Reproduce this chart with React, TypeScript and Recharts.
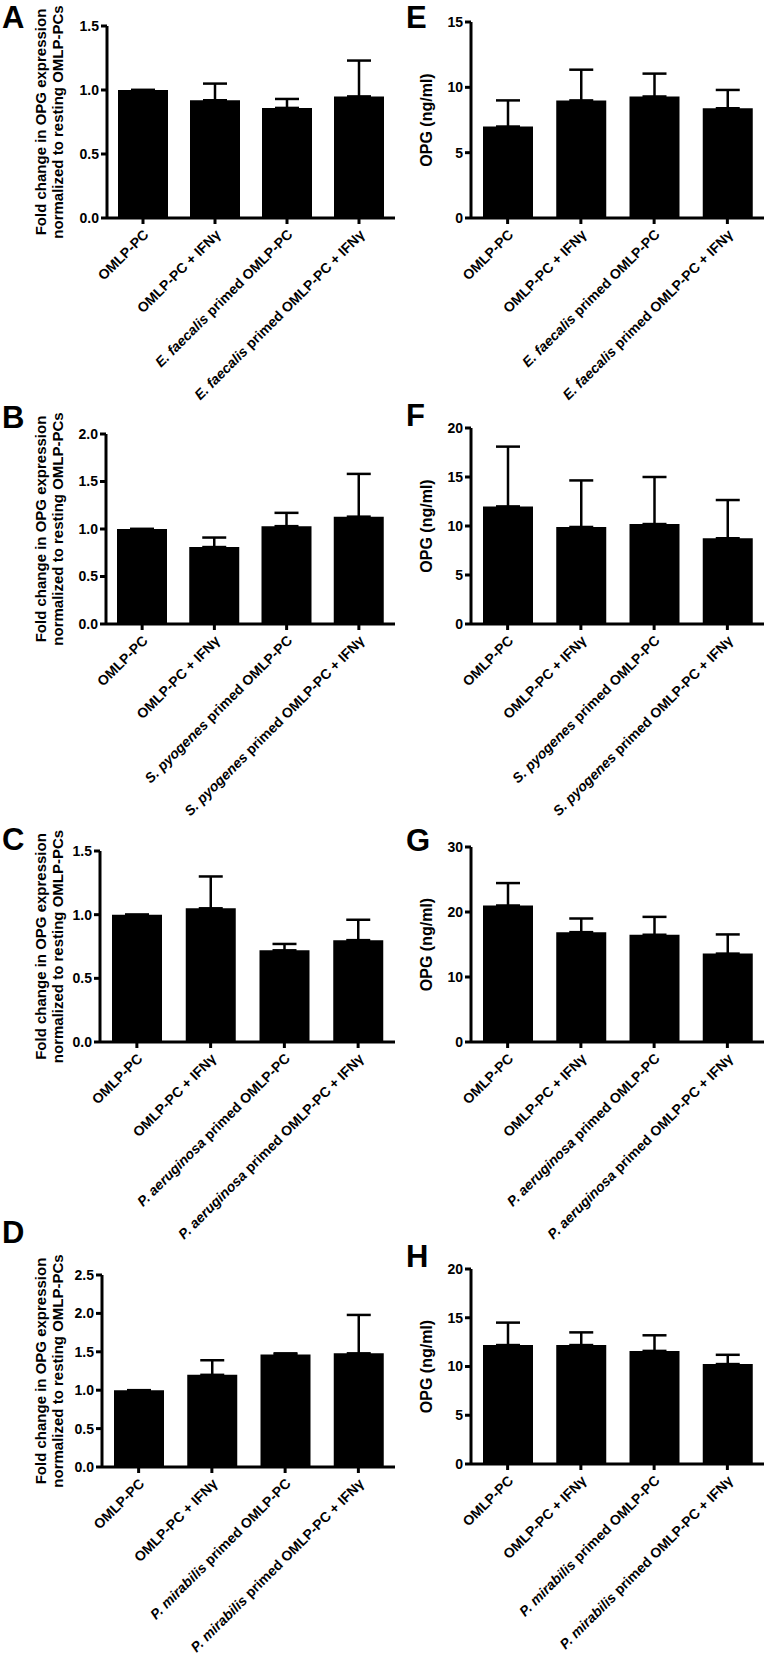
import React from "react";
import { BarChart, Bar, XAxis, YAxis, ErrorBar } from "recharts";

const FONT = "'Liberation Sans', Arial, Helvetica, sans-serif";

const species = ["E. faecalis", "S. pyogenes", "P. aeruginosa", "P. mirabilis"];

// fold change in OPG expression (A-D), mean and upper error
const foldA = [1.0, 0.92, 0.86, 0.95];
const foldAErr = [0, 0.13, 0.07, 0.28];
const foldB = [1.0, 0.81, 1.03, 1.13];
const foldBErr = [0, 0.1, 0.14, 0.45];
const foldC = [1.0, 1.05, 0.72, 0.8];
const foldCErr = [0, 0.25, 0.05, 0.16];
const foldD = [1.0, 1.2, 1.465, 1.48];
const foldDErr = [0, 0.19, 0.015, 0.5];

// OPG protein ng/ml (E-H)
const opgE = [7.0, 9.0, 9.3, 8.4];
const opgEErr = [2.0, 2.35, 1.75, 1.4];
const opgF = [12.0, 9.9, 10.2, 8.75];
const opgFErr = [6.1, 4.75, 4.8, 3.9];
const opgG = [21.0, 16.9, 16.5, 13.6];
const opgGErr = [3.45, 2.1, 2.75, 2.95];
const opgH = [12.2, 12.2, 11.6, 10.25];
const opgHErr = [2.3, 1.3, 1.6, 0.95];

const ticksFold15 = [0, 0.5, 1, 1.5];
const ticksFold20 = [0, 0.5, 1, 1.5, 2];
const ticksFold25 = [0, 0.5, 1, 1.5, 2, 2.5];
const ticksOpg15 = [0, 5, 10, 15];
const ticksOpg20 = [0, 5, 10, 15, 20];
const ticksOpg30 = [0, 10, 20, 30];

const foldLabel = ["Fold change in OPG expression", "normalized to resting OMLP-PCs"];
const opgLabel = ["OPG (ng/ml)"];

function categories(sp: string) {
  return [
    "OMLP-PC",
    "OMLP-PC + IFNγ",
    `${sp} primed OMLP-PC`,
    `${sp} primed OMLP-PC + IFNγ`,
  ];
}

function buildRows(sp: string, vals: number[], errs: number[]) {
  return categories(sp).map((name, i) => ({
    name,
    value: vals[i],
    err: [0, errs[i]],
  }));
}

function CatTick(props: any) {
  const { x, y, payload, sp } = props;
  const v: string = payload.value;
  const it = v.startsWith(sp) ? sp : "";
  const rest = it ? v.slice(sp.length) : v;
  return (
    <g transform={`translate(${x + 3},${y + 6})`}>
      <text
        transform="rotate(-45)"
        textAnchor="end"
        dy="0.35em"
        fontSize={14}
        fontWeight="bold"
        fontFamily={FONT}
        fill="#000"
      >
        {it && <tspan fontStyle="italic">{it}</tspan>}
        {rest}
      </text>
    </g>
  );
}

interface PanelProps {
  letter: string;
  letterX: number;
  letterY: number;
  left: number;
  width: number;
  plotLeft: number;
  plotTop: number;
  plotBottom: number;
  rows: any[];
  sp: string;
  ticks: number[];
  decimals: number;
  yLabel: string[];
  labelX: number[];
  labelSize: number;
}

const TOP_PAD = 40;
const CHART_H = 440;

function Panel(p: PanelProps) {
  const plotH = p.plotBottom - p.plotTop;
  const cy = TOP_PAD + plotH / 2;
  const renderLabel = () => (
    <g>
      {p.yLabel.map((line, i) => (
        <text
          key={line}
          transform={`translate(${p.labelX[i]},${cy}) rotate(-90)`}
          textAnchor="middle"
          fontSize={p.labelSize}
          fontWeight="bold"
          fontFamily={FONT}
          fill="#000"
        >
          {line}
        </text>
      ))}
    </g>
  );
  return (
    <>
      <div
        style={{
          position: "absolute",
          left: p.letterX,
          top: p.letterY,
          fontFamily: FONT,
          fontWeight: "bold",
          fontSize: 31,
          lineHeight: "normal",
          color: "#000",
        }}
      >
        {p.letter}
      </div>
      <div style={{ position: "absolute", left: p.left, top: p.plotTop - TOP_PAD }}>
        <BarChart
          width={p.width}
          height={CHART_H}
          data={p.rows}
          margin={{ top: TOP_PAD, right: 3, left: 0, bottom: 0 }}
        >
          <XAxis
            dataKey="name"
            height={CHART_H - TOP_PAD - plotH}
            interval={0}
            axisLine={{ stroke: "#000", strokeWidth: 3 }}
            tickLine={{ stroke: "#000", strokeWidth: 3 }}
            tickSize={6}
            tick={<CatTick sp={p.sp} />}
          />
          <YAxis
            width={p.plotLeft - p.left}
            domain={[p.ticks[0], p.ticks[p.ticks.length - 1]]}
            ticks={p.ticks}
            interval={0}
            allowDataOverflow
            axisLine={{ stroke: "#000", strokeWidth: 3 }}
            tickLine={{ stroke: "#000", strokeWidth: 3 }}
            tickSize={6}
            tickFormatter={(v: number) => v.toFixed(p.decimals)}
            tick={{ fontSize: 14, fontWeight: "bold", fill: "#000", fontFamily: FONT }}
            label={renderLabel}
          />
          <Bar dataKey="value" fill="#000" barSize={50} isAnimationActive={false}>
            <ErrorBar
              dataKey="err"
              direction="y"
              width={12}
              stroke="#000"
              strokeWidth={2.5}
              isAnimationActive={false}
            />
          </Bar>
        </BarChart>
      </div>
    </>
  );
}

const leftCommon = {
  left: 0,
  width: 398,
  decimals: 1,
  yLabel: foldLabel,
  labelX: [46, 63],
  labelSize: 15,
};
const rightCommon = {
  left: 384,
  width: 383,
  decimals: 0,
  yLabel: opgLabel,
  labelX: [48],
  labelSize: 16,
};

export default function App() {
  return (
    <div
      style={{
        position: "absolute",
        left: 0,
        top: 0,
        width: 767,
        height: 1661,
        background: "#fff",
        overflow: "hidden",
      }}
    >
      <Panel {...leftCommon} letter="A" letterX={2} letterY={0} plotLeft={107} plotTop={26} plotBottom={218}
        rows={buildRows(species[0], foldA, foldAErr)} sp={species[0]} ticks={ticksFold15} />
      <Panel {...leftCommon} letter="B" letterX={2} letterY={400} plotLeft={106} plotTop={434} plotBottom={624}
        rows={buildRows(species[1], foldB, foldBErr)} sp={species[1]} ticks={ticksFold20} />
      <Panel {...leftCommon} letter="C" letterX={2} letterY={822} plotLeft={100} plotTop={851} plotBottom={1042}
        rows={buildRows(species[2], foldC, foldCErr)} sp={species[2]} ticks={ticksFold15} />
      <Panel {...leftCommon} letter="D" letterX={2} letterY={1215} plotLeft={102} plotTop={1275} plotBottom={1467}
        rows={buildRows(species[3], foldD, foldDErr)} sp={species[3]} ticks={ticksFold25} />

      <Panel {...rightCommon} letter="E" letterX={406} letterY={0} plotLeft={471} plotTop={22} plotBottom={218}
        rows={buildRows(species[0], opgE, opgEErr)} sp={species[0]} ticks={ticksOpg15} />
      <Panel {...rightCommon} letter="F" letterX={406} letterY={398} plotLeft={471} plotTop={428} plotBottom={624}
        rows={buildRows(species[1], opgF, opgFErr)} sp={species[1]} ticks={ticksOpg20} />
      <Panel {...rightCommon} letter="G" letterX={406} letterY={823} plotLeft={471} plotTop={847} plotBottom={1042}
        rows={buildRows(species[2], opgG, opgGErr)} sp={species[2]} ticks={ticksOpg30} />
      <Panel {...rightCommon} letter="H" letterX={406} letterY={1239} plotLeft={471} plotTop={1269} plotBottom={1464}
        rows={buildRows(species[3], opgH, opgHErr)} sp={species[3]} ticks={ticksOpg20} />
    </div>
  );
}
